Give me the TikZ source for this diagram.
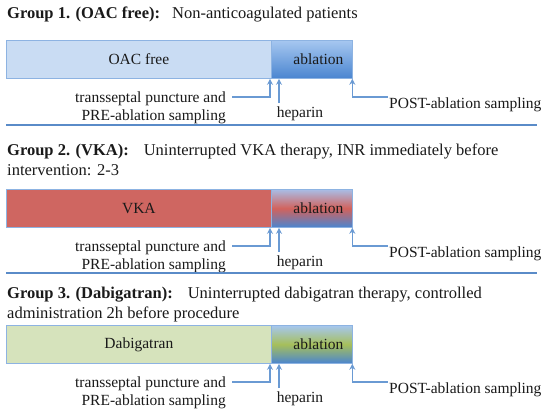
\documentclass[tikz,border=0pt]{standalone}
\usepackage{fontspec}
\setmainfont{Liberation Serif}
\usetikzlibrary{arrows.meta}
\definecolor{sepblue}{HTML}{5A8BC8}
\definecolor{arrowblue}{HTML}{6A9AD3}
\definecolor{barborder}{HTML}{8DB3E2}
\definecolor{oacfill}{HTML}{C9DCF3}
\definecolor{vkafill}{HTML}{CF6661}
\definecolor{dabifill}{HTML}{D6E3BC}
\definecolor{ablTop}{HTML}{A6C7F0}
\definecolor{ablBot}{HTML}{4A85D0}
\definecolor{ablTopB}{HTML}{A9BDE6}
\definecolor{ablRed}{HTML}{D2625C}
\definecolor{ablGreen}{HTML}{A6BF5A}
\definecolor{txt}{HTML}{1A1A1A}

\newcommand{\grpbar}[5]{%
  \node[bar, fill=#4, minimum width=265pt] (left#2) at (6,#1) {#3};
  \node[bar, #5, minimum width=81pt, text width=63pt, inner xsep=9pt, align=right] (abl#2) at (271,#1) {ablation};
  \node[lbl, anchor=base east, align=right] (tp#2) at (226,#1+80) {transseptal puncture and\\PRE-ablation sampling};
  \coordinate (tpe#2) at (232,#1+57);
  \draw[arr] (tpe#2) -| ([xshift=-1pt]abl#2.south west);
  \node[lbl, anchor=base] (hep#2) at (300,#1+77) {heparin};
  \draw[arr] ([xshift=8pt,yshift=3pt]abl#2.south west |- hep#2.north) -- ([xshift=8pt]abl#2.south west);
  \node[lbl, anchor=base west] (post#2) at (389,#1+68) {POST-ablation sampling};
  \coordinate (pe#2) at (388,#1+57);
  \draw[arr] (pe#2) -| ([xshift=-0.5pt]abl#2.south east);
}

\begin{document}
\begin{tikzpicture}[x=1pt,y=-1pt,
  bar/.style={draw=barborder, line width=0.8pt, minimum height=38pt, inner sep=0pt,
    anchor=north west, font=\fontsize{15.5}{18}\selectfont, text=txt},
  lbl/.style={font=\fontsize{15.5}{18}\selectfont, inner sep=0pt, text=txt},
  title/.style={font=\fontsize{16.5}{20}\selectfont, inner sep=0pt, align=left, anchor=base west, text=txt},
  arr/.style={draw=arrowblue, line width=1.6pt, -{Stealth[length=6pt,width=6pt]}},
  sepline/.style={draw=sepblue, line width=1.6pt}]
\useasboundingbox[fill=white] (0,0) rectangle (550,410);

% Group 1
\node[title] (t1) at (7,18) {{\bfseries Group 1. (OAC free):}\hspace{12pt}Non-anticoagulated patients};
\grpbar{40}{1}{OAC free}{oacfill}{top color=ablTop, bottom color=ablBot}
\draw[sepline] (6,125) -- (537,125);

% Group 2
\node[title] (t2) at (7,175) {{\bfseries Group 2. (VKA):}\hspace{15pt}Uninterrupted VKA therapy, INR immediately before\\intervention: 2-3};
\grpbar{189}{2}{VKA}{vkafill}{top color=ablTopB, bottom color=ablBot, middle color=ablRed}
\draw[sepline] (6,273) -- (537,273);

% Group 3
\node[title] (t3) at (7,318) {{\bfseries Group 3. (Dabigatran):}\hspace{15pt}Uninterrupted dabigatran therapy, controlled\\administration 2h before procedure};
\grpbar{325}{3}{Dabigatran}{dabifill}{top color=ablTop, bottom color=ablBot, middle color=ablGreen}
\end{tikzpicture}
\end{document}
